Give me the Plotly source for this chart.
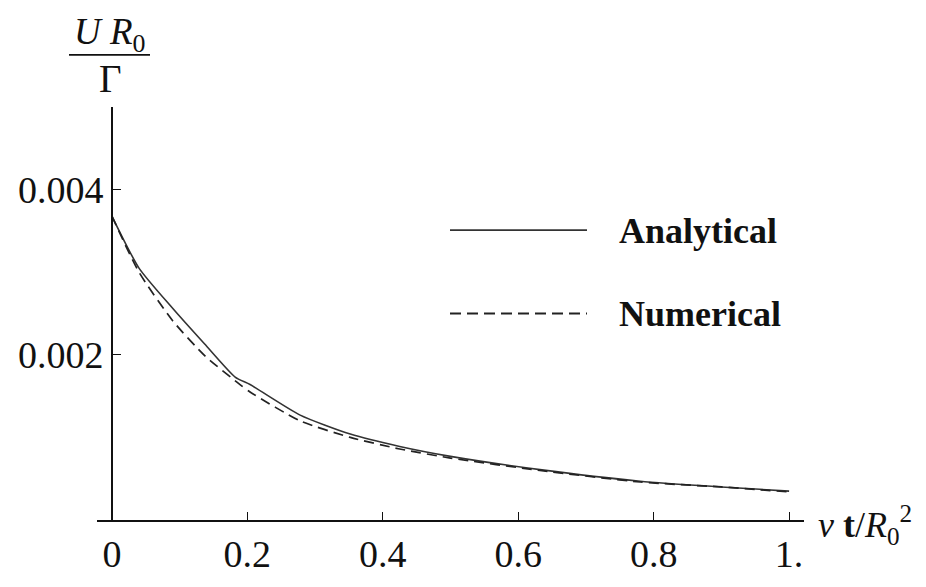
import plotly.graph_objects as go

# ---- data ----
x_analytical = [0, 0.04, 0.09, 0.137, 0.182, 0.204, 0.278, 0.352, 0.425, 0.5, 0.632, 0.78, 0.9, 1.0]
y_analytical = [0.00368, 0.00305, 0.00256, 0.00213, 0.00173, 0.00164, 0.00127, 0.00104,
                0.00089, 0.00077, 0.00061, 0.00047, 0.00040, 0.00035]
x_numerical = [0, 0.04, 0.09, 0.137, 0.186, 0.204, 0.278, 0.352, 0.425, 0.5, 0.632, 0.78, 0.9, 1.0]
y_numerical = [0.00368, 0.00300, 0.00241, 0.00199, 0.00166, 0.00155, 0.00120, 0.00100,
               0.00086, 0.00075, 0.00060, 0.00046, 0.00040, 0.00034]
x_tickvals = [0, 0.2, 0.4, 0.6, 0.8, 1.0]
x_ticktext = ["0", "0.2", "0.4", "0.6", "0.8", "1."]
y_tickvals = [0.002, 0.004]
y_ticktext = ["0.002", "0.004"]
series_names = ["Analytical", "Numerical"]

# ---- layout geometry ----
W, H = 926, 587
L, R, T, B = 97, 122, 107, 44
PW, PH = W - L - R, H - T - B
XR = [-0.022, 1.022]
YR = [0, 0.005]
FONT = "Liberation Serif, Times New Roman, serif"
INK = "#111111"


def px(xp):
    return (xp - L) / PW


def py(yp):
    return (H - B - yp) / PH


fig = go.Figure()
fig.add_trace(go.Scatter(x=x_analytical, y=y_analytical, mode="lines", name=series_names[0],
                         line=dict(color="#333333", width=1.6, shape="spline", smoothing=0.6),
                         showlegend=False))
fig.add_trace(go.Scatter(x=x_numerical, y=y_numerical, mode="lines", name=series_names[1],
                         line=dict(color="#222222", width=1.7, dash="10px,6px", shape="spline", smoothing=0.6),
                         showlegend=False))

shapes = [
    # legend samples
    dict(type="line", xref="paper", yref="paper", x0=px(450), x1=px(587), y0=py(237), y1=py(237),
         line=dict(color="#333333", width=1.8)),
    dict(type="line", xref="paper", yref="paper", x0=px(450), x1=px(587), y0=py(325), y1=py(325),
         line=dict(color="#222222", width=1.8, dash="11px,6px")),
    # fraction bar of the y label
    dict(type="line", xref="paper", yref="paper", x0=px(69), x1=px(150), y0=py(52), y1=py(52),
         line=dict(color=INK, width=1.6)),
]

annotations = [
    dict(xref="paper", yref="paper", x=px(617), y=py(238), xanchor="left", yanchor="middle",
         text="<b>" + series_names[0] + "</b>", showarrow=False, font=dict(family=FONT, size=36, color=INK)),
    dict(xref="paper", yref="paper", x=px(617), y=py(326), xanchor="left", yanchor="middle",
         text="<b>" + series_names[1] + "</b>", showarrow=False, font=dict(family=FONT, size=36, color=INK)),
    dict(xref="paper", yref="paper", x=px(110), y=py(30), xanchor="center", yanchor="middle",
         text="<i>U R</i><sub>0</sub>", showarrow=False, font=dict(family=FONT, size=37, color=INK)),
    dict(xref="paper", yref="paper", x=px(110), y=py(77), xanchor="center", yanchor="middle",
         text="Γ", showarrow=False, font=dict(family=FONT, size=39, color=INK)),
    dict(xref="paper", yref="paper", x=px(816), y=py(548), xanchor="left", yanchor="middle",
         text="<i>ν</i> <b>t</b>/<i>R</i><sub>0</sub><sup>2</sup>", showarrow=False,
         font=dict(family=FONT, size=36, color=INK)),
]

fig.update_layout(
    width=W, height=H,
    margin=dict(l=L, r=R, t=T, b=B, pad=0),
    paper_bgcolor="white", plot_bgcolor="white",
    shapes=shapes, annotations=annotations,
    xaxis=dict(range=XR, showgrid=False, zeroline=False, showline=True, linecolor=INK, linewidth=1.6,
               ticks="inside", ticklen=8, tickwidth=1.3, tickcolor=INK,
               tickvals=x_tickvals, ticktext=x_ticktext,
               tickfont=dict(family=FONT, size=38, color=INK)),
    yaxis=dict(range=YR, showgrid=False, zeroline=False, showline=True, linecolor=INK, linewidth=1.6,
               anchor="free", position=(0 - XR[0]) / (XR[1] - XR[0]),
               ticks="inside", ticklen=8, tickwidth=1.3, tickcolor=INK,
               tickvals=y_tickvals, ticktext=y_ticktext,
               tickfont=dict(family=FONT, size=38, color=INK)),
)

fig.write_html("out.html")
